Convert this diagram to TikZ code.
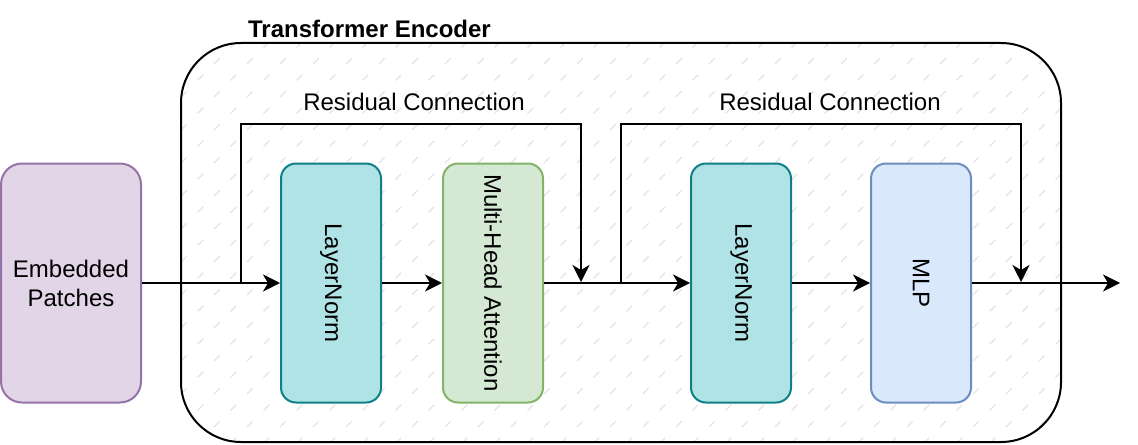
\documentclass[tikz,border=0pt]{standalone}
\usepackage{fontspec}
\setmainfont{Liberation Sans}
\usetikzlibrary{positioning}
\usetikzlibrary{arrows.meta}
\definecolor{embfill}{HTML}{E1D5E7}
\definecolor{embdraw}{HTML}{9673A6}
\definecolor{lnfill}{HTML}{B0E3E6}
\definecolor{lndraw}{HTML}{0E8088}
\definecolor{attfill}{HTML}{D5E8D4}
\definecolor{attdraw}{HTML}{82B366}
\definecolor{mlpfill}{HTML}{DAE8FC}
\definecolor{mlpdraw}{HTML}{6C8EBF}
\tikzstyle{patch} = [rectangle, draw=embdraw, fill=embfill, line width=1pt,
    rounded corners=10.5pt, minimum width=70pt, minimum height=119.5pt, align=center, inner sep=0pt]
\tikzstyle{block} = [rectangle, line width=1pt, rounded corners=7.5pt,
    minimum width=50pt, minimum height=119.5pt, inner sep=0pt]
\tikzstyle{norm} = [block, draw=lndraw, fill=lnfill]
\tikzstyle{attn} = [block, draw=attdraw, fill=attfill]
\tikzstyle{mlpbox} = [block, draw=mlpdraw, fill=mlpfill]
\tikzstyle{encoder} = [rectangle, draw, line width=1pt, rounded corners=30pt,
    minimum width=440pt, minimum height=199.5pt, inner sep=0pt]
\tikzstyle{hatch} = [gray!22, line width=0.6pt, dash pattern=on 4pt off 7.67pt]
\tikzstyle{arrow} = [line width=1pt, -{Stealth[length=8.5pt,width=8.5pt,inset=2.5pt]}]

\begin{document}
\begin{tikzpicture}[x=0.5pt, y=-0.5pt, font=\fontsize{12}{14.5}\selectfont]
\useasboundingbox (0,0) rectangle (1138,444);

% hatched background of the encoder
\begin{scope}
\clip[rounded corners=30pt] (181,43) rectangle (1061,442);
\foreach \i in {-14,...,27}
    \draw [hatch] (181+33*\i,460) -- ++(500,-500);
\end{scope}

\node (enc) [encoder] at (621,242.5) {};
\node (title) [anchor=west, font=\fontsize{12}{14.5}\selectfont\bfseries] at (241,29) {Transformer Encoder};

\node (emb) [patch] at (71,283) {Embedded\\Patches};
\node (ln1) [norm, right=69pt of emb] {\rotatebox{-90}{LayerNorm}};
\node (mha) [attn, right=30pt of ln1] {\rotatebox{-90}{Multi-Head Attention}};
\node (ln2) [norm, right=73pt of mha] {\rotatebox{-90}{LayerNorm}};
\node (mlp) [mlpbox, right=39pt of ln2] {\rotatebox{-90}{MLP}};

\node (rc1) at (414,102) {Residual Connection};
\node (rc2) at (830,102) {Residual Connection};

\coordinate (s1) at (241,283);
\coordinate (k1) at (241,124);
\coordinate (t1) at (581,282);
\coordinate (s2) at (621,283);
\coordinate (k2) at (621,124);
\coordinate (t2) at (1021,282);
\coordinate (out) at (1120,283);

\draw [arrow] (emb) -- (ln1);
\draw [arrow] (ln1) -- (mha);
\draw [arrow] (mha) -- (ln2);
\draw [arrow] (ln2) -- (mlp);
\draw [arrow] (mlp) -- (out);
\draw [arrow] (s1) -- (k1) -| (t1);
\draw [arrow] (s2) -- (k2) -| (t2);
\end{tikzpicture}
\end{document}
